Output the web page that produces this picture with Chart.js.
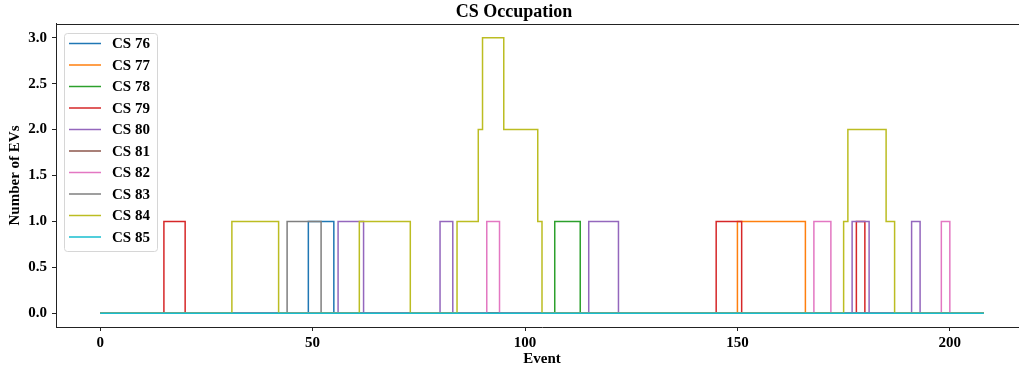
<!DOCTYPE html>
<html>
<head>
<meta charset="utf-8">
<script src="https://cdn.jsdelivr.net/npm/chart.js@4"></script>
<style>
  html, body { margin: 0; padding: 0; background: #fff; overflow: hidden; }
</style>
</head>
<body>
<canvas id="occ" width="1084" height="369"></canvas>
<script>
// change points per station: [event, EVs from this event on]
const stations = ['CS 76', 'CS 77', 'CS 78', 'CS 79', 'CS 80', 'CS 81', 'CS 82', 'CS 83', 'CS 84', 'CS 85'];
const cs76 = [[0, 0], [49, 1], [55, 0], [208, 0]];
const cs77 = [[0, 0], [150, 1], [166, 0], [208, 0]];
const cs78 = [[0, 0], [107, 1], [113, 0], [208, 0]];
const cs79 = [[0, 0], [15, 1], [20, 0], [145, 1], [151, 0], [178, 1], [180, 0], [208, 0]];
const cs80 = [[0, 0], [56, 1], [62, 0], [80, 1], [83, 0], [115, 1], [122, 0], [177, 1], [181, 0], [191, 1], [193, 0], [208, 0]];
const cs81 = [[0, 0], [208, 0]];
const cs82 = [[0, 0], [91, 1], [94, 0], [168, 1], [172, 0], [198, 1], [200, 0], [208, 0]];
const cs83 = [[0, 0], [44, 1], [52, 0], [208, 0]];
const cs84 = [[0, 0], [31, 1], [42, 0], [61, 1], [73, 0], [84, 1], [89, 2], [90, 3], [95, 2], [103, 1], [104, 0],
              [175, 1], [176, 2], [185, 1], [187, 0], [208, 0]];
const cs85 = [[0, 0], [208, 0]];
const series = [cs76, cs77, cs78, cs79, cs80, cs81, cs82, cs83, cs84, cs85];

const xTicks = [0, 50, 100, 150, 200];
const yTicks = [0, 0.5, 1, 1.5, 2, 2.5, 3];

const colors = ['#1f77b4', '#ff7f0e', '#2ca02c', '#d62728', '#9467bd',
                '#8c564b', '#e377c2', '#7f7f7f', '#bcbd22', '#17becf'];

const serif = "'Liberation Serif', 'Times New Roman', serif";
const ink = '#222';

// frame line along the top, plus a legend box inside the plot
const framePlugin = {
    id: 'frame',
    afterDraw(chart) {
        const c = chart.ctx;
        const a = chart.chartArea;
        c.save();
        c.strokeStyle = ink;
        c.lineWidth = 1;
        c.beginPath();
        c.moveTo(a.left, a.top + 0.5);
        c.lineTo(a.right, a.top + 0.5);
        c.stroke();

        // legend
        const bx = 64, by = 33, bw = 93, bh = 218, r = 3;
        c.fillStyle = 'rgba(255,255,255,0.8)';
        c.strokeStyle = '#d6d6d6';
        c.beginPath();
        c.roundRect(bx + 0.5, by + 0.5, bw, bh, r);
        c.fill();
        c.stroke();
        c.font = 'bold 15px ' + serif;
        c.textBaseline = 'middle';
        c.textAlign = 'left';
        stations.forEach((name, i) => {
            const y = 43.5 + i * 21.5;
            c.strokeStyle = colors[i];
            c.lineWidth = 1.5;
            c.beginPath();
            c.moveTo(69, y);
            c.lineTo(101, y);
            c.stroke();
            c.fillStyle = '#000';
            c.fillText(name, 112, y + 1);
        });
        c.restore();
    }
};

const ctx = document.getElementById('occ').getContext('2d');
const occupation = new Chart(ctx, {
    type: 'line',
    data: {
        datasets: series.map((pts, i) => ({
            label: stations[i],
            data: pts.map(p => ({ x: p[0], y: p[1] })),
            borderColor: colors[i],
            backgroundColor: colors[i],
            borderWidth: 1.5,
            pointRadius: 0,
            stepped: true,
            fill: false,
            // later stations sit on top
            order: series.length - i
        }))
    },
    options: {
        responsive: false,
        animation: false,
        layout: { padding: { left: 0, right: 56, top: 0, bottom: 0 } },
        plugins: {
            legend: { display: false },
            tooltip: { enabled: false },
            title: {
                display: true,
                text: 'CS Occupation',
                color: '#000',
                font: { family: serif, size: 18, weight: 'bold' },
                padding: { top: 2, bottom: 0.4 }
            }
        },
        scales: {
            x: {
                type: 'linear',
                min: -10.4,
                max: 218.4,
                afterFit: s => { s.height = 42; },
                afterBuildTicks: s => { s.ticks = xTicks.map(v => ({ value: v })); },
                ticks: {
                    color: '#000',
                    padding: 3,
                    maxRotation: 0,
                    font: { family: serif, size: 15, weight: 'bold' }
                },
                grid: { drawOnChartArea: false, tickLength: 4, color: ink },
                border: { color: ink, width: 1 },
                title: {
                    display: true,
                    text: 'Event',
                    color: '#000',
                    font: { family: serif, size: 15, weight: 'bold' },
                    padding: { top: 0, bottom: 1 }
                }
            },
            y: {
                min: -0.15,
                max: 3.15,
                afterFit: s => { s.width = 56; },
                afterBuildTicks: s => { s.ticks = yTicks.map(v => ({ value: v })); },
                ticks: {
                    color: '#000',
                    padding: 5,
                    font: { family: serif, size: 15, weight: 'bold' },
                    callback: v => v.toFixed(1)
                },
                grid: { drawOnChartArea: false, tickLength: 4, color: ink },
                border: { color: ink, width: 1 },
                title: {
                    display: true,
                    text: 'Number of EVs',
                    color: '#000',
                    font: { family: serif, size: 15, weight: 'bold' },
                    padding: { top: 6, bottom: 0 }
                }
            }
        }
    },
    plugins: [framePlugin]
});
</script>
</body>
</html>
